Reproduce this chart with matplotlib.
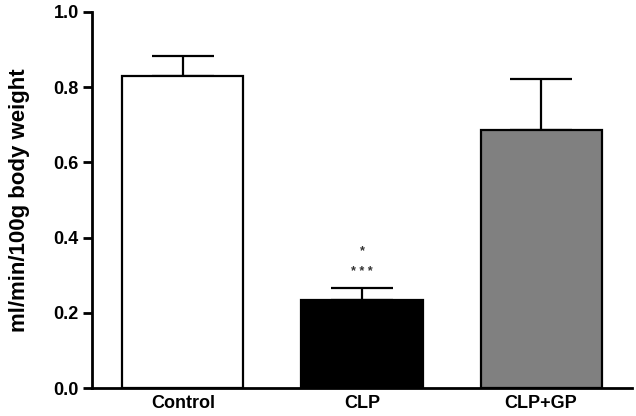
import matplotlib
matplotlib.use("Agg")
import matplotlib.pyplot as plt
import numpy as np

categories = ["Control", "CLP", "CLP+GP"]
means = [0.83, 0.235, 0.685]
sem_upper = [0.053, 0.032, 0.137]
colors = ["white", "black", "#808080"]
yticks = [0.0, 0.2, 0.4, 0.6, 0.8, 1.0]

plt.rcParams['font.family'] = ['Liberation Sans', 'DejaVu Sans']
plt.rcParams['font.weight'] = 'bold'

fig = plt.figure(figsize=(6.36, 4.16), dpi=100)
ax = fig.add_axes([0.1447, 0.0673, 0.849, 0.904])

x = np.arange(len(categories))
ax.bar(x, means, width=0.676, color=colors, edgecolor="black", linewidth=1.6, zorder=2)
ax.errorbar(x, means, yerr=[np.zeros(len(means)), sem_upper], fmt="none",
            ecolor="black", elinewidth=1.6, capsize=22, capthick=1.6, zorder=1)

# significance marks on CLP
ax.text(1, 0.363, "*", ha="center", va="center", fontsize=9, color="#333333")
ax.text(1, 0.308, "* * *", ha="center", va="center", fontsize=9, color="#333333")

ax.set_xlim(-0.508, 2.508)
ax.set_ylim(0, 1.0)
ax.set_yticks(yticks)
ax.set_yticklabels([f"{v:.1f}" for v in yticks])
ax.set_xticks(x)
ax.set_xticklabels(categories)
ax.tick_params(axis="y", length=6.5, width=2, labelsize=13, pad=3)
ax.tick_params(axis="x", length=0, labelsize=13, pad=5)
for lab in ax.get_xticklabels() + ax.get_yticklabels():
    lab.set_fontweight("bold")
ax.spines["top"].set_visible(False)
ax.spines["right"].set_visible(False)
ax.spines["left"].set_linewidth(2)
ax.spines["bottom"].set_linewidth(2)
ax.set_ylabel("ml/min/100g body weight", fontsize=16, fontweight="bold", labelpad=17)

fig.savefig("out.png", dpi=100)
